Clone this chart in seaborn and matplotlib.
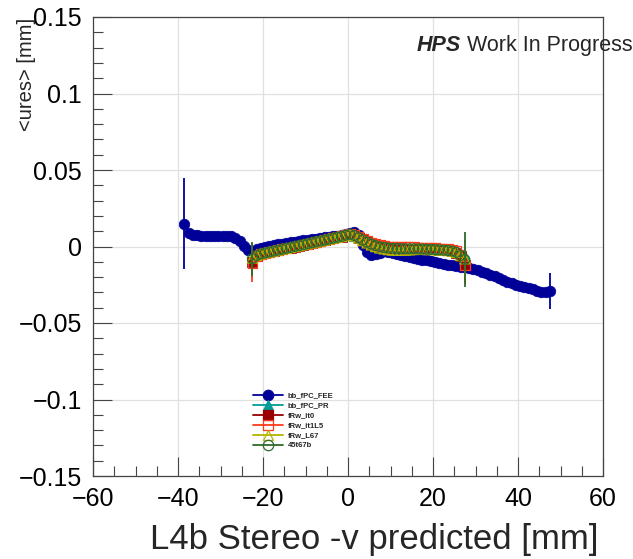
import numpy as np
import matplotlib
matplotlib.use("Agg")
import matplotlib.pyplot as plt
from matplotlib.lines import Line2D
from matplotlib.ticker import MultipleLocator, FuncFormatter
import seaborn as sns

# ---------------- data ----------------
series_names = ["bb_fPC_FEE", "bb_fPC_PR", "fRw_it0", "fRw_it1L5", "fRw_L67", "45t67b"]

# bin centres (1 mm bins)
fee_x_first, fee_x_last = -38.5, 47.5
band_x_first, band_x_last = -22.5, 27.5

fee_y = [0.0150, 0.0090, 0.0075, 0.0072, 0.0070, 0.0071, 0.0069, 0.0070, 0.0068, 0.0069,
         0.0067, 0.0066, 0.0058, 0.0035, 0.0005, -0.0022, -0.0030, -0.0018, -0.0008, 0.0000,
         0.0006, 0.0010, 0.0015, 0.0019, 0.0024, 0.0028, 0.0032, 0.0036, 0.0040, 0.0044,
         0.0048, 0.0052, 0.0056, 0.0060, 0.0063, 0.0067, 0.0070, 0.0074, 0.0080, 0.0088,
         0.0095, 0.0072, 0.0010, -0.0038, -0.0055, -0.0052, -0.0040, -0.0030, -0.0035, -0.0042,
         -0.0050, -0.0058, -0.0064, -0.0070, -0.0075, -0.0080, -0.0085, -0.0090, -0.0095, -0.0100,
         -0.0106, -0.0112, -0.0118, -0.0124, -0.0128, -0.0132, -0.0135, -0.0140, -0.0146, -0.0155,
         -0.0165, -0.0175, -0.0185, -0.0196, -0.0207, -0.0218, -0.0230, -0.0240, -0.0250, -0.0256,
         -0.0262, -0.0268, -0.0278, -0.0290, -0.0298, -0.0300, -0.0290]

pr_y = [-0.0070, -0.0058, -0.0047, -0.0041, -0.0035, -0.0029, -0.0023, -0.0017, -0.0011, -0.0005,
        0.0001, 0.0007, 0.0013, 0.0019, 0.0025, 0.0031, 0.0037, 0.0043, 0.0049, 0.0055,
        0.0061, 0.0067, 0.0075, 0.0080, 0.0071, 0.0057, 0.0041, 0.0027, 0.0015, 0.0005,
        -0.0003, -0.0007, -0.0010, -0.0012, -0.0013, -0.0013, -0.0014, -0.0014, -0.0015, -0.0015,
        -0.0016, -0.0017, -0.0018, -0.0019, -0.0021, -0.0023, -0.0025, -0.0029, -0.0036, -0.0052,
        -0.0060]

it0_y = [-0.0100, -0.0062, -0.0049, -0.0043, -0.0037, -0.0031, -0.0025, -0.0019, -0.0013, -0.0007,
         -0.0001, 0.0005, 0.0011, 0.0017, 0.0023, 0.0029, 0.0035, 0.0041, 0.0047, 0.0053,
         0.0059, 0.0065, 0.0073, 0.0079, 0.0072, 0.0058, 0.0043, 0.0029, 0.0017, 0.0007,
         -0.0001, -0.0005, -0.0009, -0.0011, -0.0012, -0.0013, -0.0014, -0.0014, -0.0014, -0.0015,
         -0.0016, -0.0017, -0.0018, -0.0019, -0.0021, -0.0023, -0.0025, -0.0030, -0.0040, -0.0065,
         -0.0120]

it1l5_y = [-0.0110, -0.0063, -0.0049, -0.0042, -0.0036, -0.0030, -0.0024, -0.0018, -0.0012, -0.0006,
           0.0000, 0.0006, 0.0012, 0.0018, 0.0024, 0.0030, 0.0036, 0.0042, 0.0048, 0.0054,
           0.0060, 0.0067, 0.0075, 0.0081, 0.0076, 0.0064, 0.0050, 0.0037, 0.0026, 0.0016,
           0.0008, 0.0003, 0.0000, -0.0002, -0.0003, -0.0004, -0.0005, -0.0005, -0.0005, -0.0006,
           -0.0007, -0.0008, -0.0009, -0.0010, -0.0012, -0.0014, -0.0016, -0.0020, -0.0030, -0.0055,
           -0.0125]

l67_y = [-0.0075, -0.0057, -0.0047, -0.0041, -0.0035, -0.0029, -0.0023, -0.0017, -0.0011, -0.0005,
         0.0001, 0.0007, 0.0013, 0.0019, 0.0025, 0.0031, 0.0037, 0.0043, 0.0049, 0.0055,
         0.0061, 0.0067, 0.0074, 0.0079, 0.0071, 0.0056, 0.0039, 0.0024, 0.0011, 0.0000,
         -0.0009, -0.0015, -0.0020, -0.0023, -0.0024, -0.0024, -0.0023, -0.0021, -0.0019, -0.0018,
         -0.0018, -0.0019, -0.0019, -0.0020, -0.0022, -0.0024, -0.0026, -0.0030, -0.0038, -0.0058,
         -0.0080]

t67b_y = [-0.0080, -0.0059, -0.0048, -0.0042, -0.0036, -0.0030, -0.0024, -0.0018, -0.0012, -0.0006,
          0.0000, 0.0006, 0.0012, 0.0018, 0.0024, 0.0030, 0.0036, 0.0042, 0.0048, 0.0054,
          0.0060, 0.0066, 0.0074, 0.0080, 0.0072, 0.0058, 0.0042, 0.0028, 0.0016, 0.0006,
          -0.0002, -0.0006, -0.0010, -0.0012, -0.0013, -0.0014, -0.0015, -0.0015, -0.0015, -0.0016,
          -0.0017, -0.0018, -0.0019, -0.0020, -0.0022, -0.0024, -0.0026, -0.0030, -0.0038, -0.0060,
          -0.0085]

# errors: (first bin, typical bin, last bin)
fee_err = (0.030, 0.0008, 0.012)
pr_err = (0.008, 0.0008, 0.010)
it0_err = (0.010, 0.0008, 0.011)
it1l5_err = (0.012, 0.0008, 0.012)
l67_err = (0.010, 0.0008, 0.012)
t67b_err = (0.011, 0.0008, 0.018)

x_ticks = [-60, -40, -20, 0, 20, 40, 60]
y_ticks = [-0.15, -0.1, -0.05, 0, 0.05, 0.1, 0.15]

# ---------------- style ----------------
sns.set_style("ticks")
plt.rcParams["font.family"] = ["Liberation Sans", "DejaVu Sans"]
plt.rcParams["axes.unicode_minus"] = True

W, H = 633, 559
fig = plt.figure(figsize=(W / 100, H / 100), dpi=100)
ax = fig.add_axes([93 / W, 1 - 476 / H, 510 / W, 459 / H])

styles = [
    dict(color="#000099", marker="o", s=58, filled=True),
    dict(color="#009c99", marker="^", s=55, filled=True),
    dict(color="#990000", marker="s", s=48, filled=True),
    dict(color="#ff3a1a", marker="s", s=48, filled=False),
    dict(color="#b3b300", marker="^", s=55, filled=False),
    dict(color="#2e6b2e", marker="o", s=50, filled=False),
]


def errs(e, n):
    return [e[0]] + [e[1]] * (n - 2) + [e[2]]


fee_x = np.arange(fee_x_first, fee_x_last + 0.5, 1.0)
band_x = np.arange(band_x_first, band_x_last + 0.5, 1.0)

all_series = [
    (fee_x, fee_y, fee_err),
    (band_x, pr_y, pr_err),
    (band_x, it0_y, it0_err),
    (band_x, it1l5_y, it1l5_err),
    (band_x, l67_y, l67_err),
    (band_x, t67b_y, t67b_err),
]

for i, ((xs, ys, e), st) in enumerate(zip(all_series, styles)):
    ax.errorbar(xs, ys, yerr=errs(e, len(ys)), fmt="none", ecolor=st["color"],
                elinewidth=1.3, capsize=0, zorder=3 + i)
    if st["filled"]:
        sns.scatterplot(x=xs, y=ys, ax=ax, marker=st["marker"], s=st["s"],
                        color=st["color"], edgecolor=st["color"], linewidth=0.5,
                        zorder=3 + i, legend=False)
    else:
        sns.scatterplot(x=xs, y=ys, ax=ax, marker=st["marker"], s=st["s"],
                        facecolors="none", edgecolor=st["color"], linewidth=0.9,
                        zorder=3 + i, legend=False)

ax.set_xlim(-60, 60)
ax.set_ylim(-0.15, 0.15)
ax.set_xticks(x_ticks)
ax.set_yticks(y_ticks)
ax.xaxis.set_minor_locator(MultipleLocator(5))
ax.yaxis.set_minor_locator(MultipleLocator(0.01))


def fmt(v, pos):
    s = f"{v:g}"
    if abs(v) < 1e-12:
        s = "0"
    return s.replace("-", "\u2212")


ax.xaxis.set_major_formatter(FuncFormatter(fmt))
ax.yaxis.set_major_formatter(FuncFormatter(fmt))
ax.tick_params(axis="both", which="major", direction="in", length=14, width=0.8,
               labelsize=18, pad=8, colors="#444444", labelcolor="black")
ax.tick_params(axis="both", which="minor", direction="in", length=7, width=0.8,
               colors="#444444")
ax.tick_params(top=False, right=False, which="both")
ax.grid(True, which="major", color="#e0e0e0", linewidth=0.9, zorder=0)
ax.set_axisbelow(True)
for sp in ax.spines.values():
    sp.set_color("#444444")
    sp.set_linewidth(0.9)
    sp.set_visible(True)

ax.set_xlabel("")
ax.set_ylabel("")
fig.text(598 / W, 1 - 549 / H, "L4b Stereo -v predicted [mm]", fontsize=25,
         ha="right", va="baseline")
fig.text(27 / W, 1 - 18 / H, "<ures> [mm]", fontsize=14.5, rotation=90,
         ha="center", va="top")

fig.text(417 / W, 1 - 51 / H, "HPS", fontsize=15.5, fontweight="bold",
         fontstyle="italic", ha="left", va="baseline")
fig.text(467 / W, 1 - 51 / H, "Work In Progress", fontsize=15.5,
         ha="left", va="baseline")

handles = []
for name, st in zip(series_names, styles):
    handles.append(Line2D([0], [0], color=st["color"], lw=1.3, marker=st["marker"],
                          markersize=7.5,
                          markerfacecolor=st["color"] if st["filled"] else "none",
                          markeredgecolor=st["color"], markeredgewidth=0.9))
leg = ax.legend(handles, series_names, loc="upper left",
                bbox_to_anchor=(253 / W, 1 - 392 / H), bbox_transform=fig.transFigure,
                frameon=False, borderpad=0, borderaxespad=0, handlelength=3.9,
                handletextpad=0.6, labelspacing=0.35,
                prop={"weight": "bold", "size": 5.5})

fig.savefig("out.png", dpi=100)
